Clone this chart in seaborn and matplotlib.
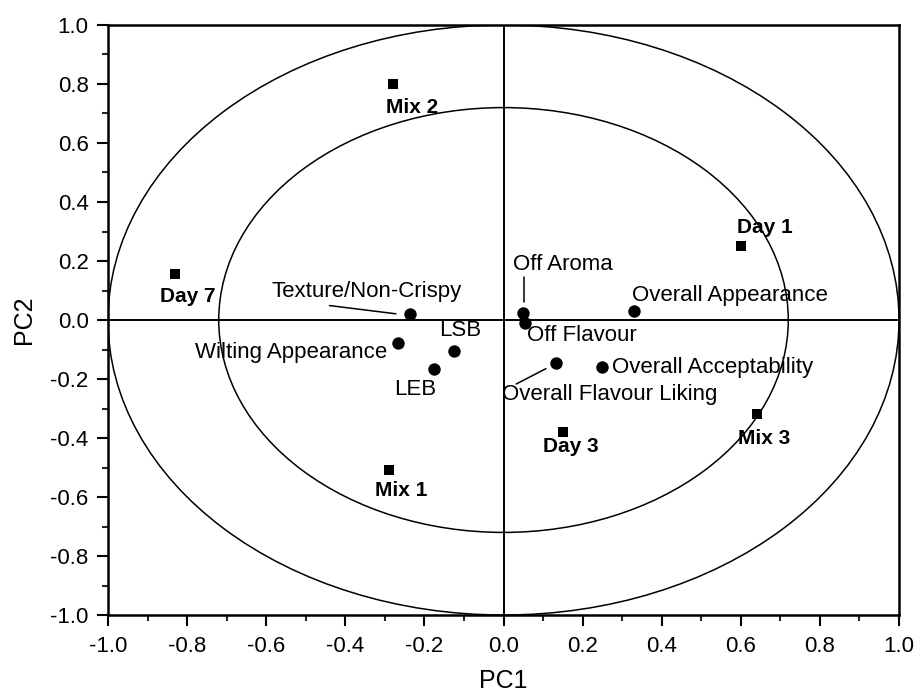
import numpy as np
import pandas as pd
import matplotlib
matplotlib.use("Agg")
import matplotlib.pyplot as plt
from matplotlib.patches import Ellipse
from matplotlib.ticker import MultipleLocator
import seaborn as sns

#%% Data

sample_names = ["Day 1", "Day 3", "Day 7", "Mix 1", "Mix 2", "Mix 3"]
sample_pc1 = [0.60, 0.15, -0.83, -0.29, -0.28, 0.64]
sample_pc2 = [0.25, -0.38, 0.155, -0.51, 0.80, -0.32]

attr_names = ["Texture/Non-Crispy", "Wilting Appearance", "LSB", "LEB",
              "Off Aroma", "Off Flavour", "Overall Flavour Liking",
              "Overall Acceptability", "Overall Appearance"]
attr_pc1 = [-0.236, -0.266, -0.126, -0.175, 0.049, 0.054, 0.132, 0.25, 0.331]
attr_pc2 = [0.02, -0.077, -0.104, -0.167, 0.025, -0.009, -0.145, -0.16, 0.03]

# correlation circles
radii = [1.0, 0.72]

#%% Layout of labels (offset from the point, alignment)

sample_offsets = {
    "Day 1": (-0.01, 0.062),
    "Day 3": (-0.051, -0.05),
    "Day 7": (-0.038, -0.074),
    "Mix 1": (-0.036, -0.068),
    "Mix 2": (-0.018, -0.078),
    "Mix 3": (-0.047, -0.082),
}
attr_offsets = {
    "Texture/Non-Crispy": (-0.35, 0.077, "left"),
    "Wilting Appearance": (-0.028, -0.032, "right"),
    "LSB": (-0.037, 0.067, "left"),
    "LEB": (-0.102, -0.067, "left"),
    "Off Aroma": (-0.024, 0.164, "left"),
    "Off Flavour": (0.005, -0.042, "left"),
    "Overall Flavour Liking": (-0.135, -0.109, "left"),
    "Overall Acceptability": (0.024, -0.001, "left"),
    "Overall Appearance": (-0.007, 0.052, "left"),
}
leaders = [((-0.44, -0.272), (0.049, 0.021)),
           ((0.051, 0.051), (0.147, 0.062)),
           ((0.032, 0.107), (-0.217, -0.165))]

#%% Plot

sns.set_style("white")
plt.rcParams['font.family'] = ['Liberation Sans', 'DejaVu Sans']
plt.rcParams['text.color'] = 'black'
plt.rcParams['axes.labelcolor'] = 'black'

fig = plt.figure(figsize=(9.2, 7), dpi=100)
ax = fig.add_axes([0.1174, 0.1214, 0.8598, 0.8429])

samples = pd.DataFrame({"PC1": sample_pc1, "PC2": sample_pc2, "name": sample_names})
attrs = pd.DataFrame({"PC1": attr_pc1, "PC2": attr_pc2, "name": attr_names})

for r in radii:
    ax.add_patch(Ellipse((0, 0), 2 * r, 2 * r, fill=False, color="black", lw=1.1, zorder=1))
ax.axhline(0, color="black", lw=1.4, zorder=1)
ax.axvline(0, color="black", lw=1.4, zorder=1)

sns.scatterplot(data=samples, x="PC1", y="PC2", marker="s", s=62, color="black",
                edgecolor="black", linewidth=0, ax=ax, zorder=3)
sns.scatterplot(data=attrs, x="PC1", y="PC2", marker="o", s=80, color="black",
                edgecolor="black", linewidth=0, ax=ax, zorder=3)

for name, x, y in zip(sample_names, sample_pc1, sample_pc2):
    dx, dy = sample_offsets[name]
    ax.text(x + dx, y + dy, name, fontsize=15, fontweight="bold", ha="left", va="center",
            color="black")
for name, x, y in zip(attr_names, attr_pc1, attr_pc2):
    dx, dy, ha = attr_offsets[name]
    ax.text(x + dx, y + dy, name, fontsize=16, ha=ha, va="center", color="black")
for xs, ys in leaders:
    ax.plot(xs, ys, color="black", lw=1.1)

ax.set_xlim(-1, 1)
ax.set_ylim(-1, 1)
ax.xaxis.set_major_locator(MultipleLocator(0.2))
ax.yaxis.set_major_locator(MultipleLocator(0.2))
ax.xaxis.set_minor_locator(MultipleLocator(0.1))
ax.yaxis.set_minor_locator(MultipleLocator(0.1))
ax.xaxis.set_major_formatter(lambda v, p: f"{v:.1f}")
ax.yaxis.set_major_formatter(lambda v, p: f"{v:.1f}")
ax.tick_params(which="major", direction="out", length=8, width=1.5, labelsize=16,
               bottom=True, left=True, top=False, right=False, colors="black",
               labelcolor="black")
ax.tick_params(axis="x", which="major", pad=7)
ax.tick_params(axis="y", which="major", pad=6)
ax.tick_params(which="minor", direction="out", length=4, width=1.5,
               bottom=True, left=True, top=False, right=False)
ax.set_xlabel("PC1", fontsize=18, labelpad=9, color="black")
ax.set_ylabel("PC2", fontsize=18, labelpad=10, color="black")
for sp in ax.spines.values():
    sp.set_color("black")
    sp.set_linewidth(1.8)

fig.savefig("out.png", dpi=100)
